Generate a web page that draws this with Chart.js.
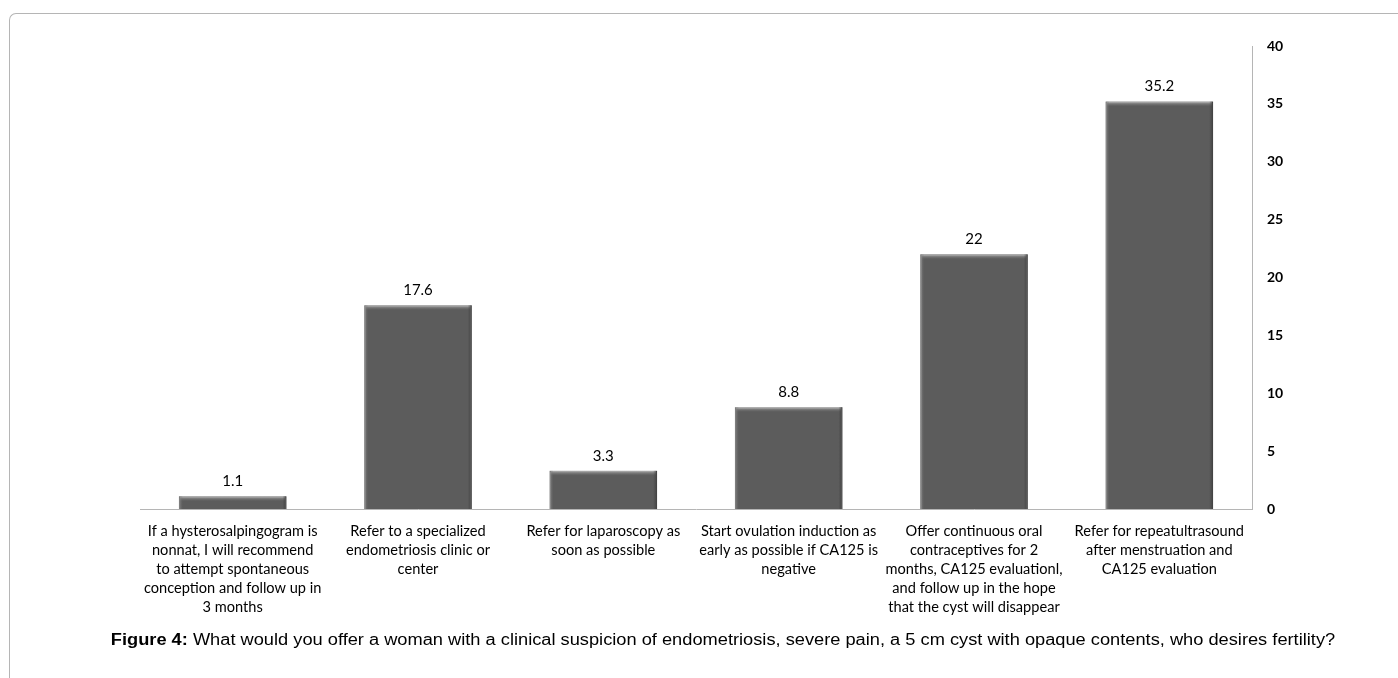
<!DOCTYPE html>
<html>
<head>
<meta charset="utf-8">
<script src="https://cdn.jsdelivr.net/npm/chart.js@4.4.1/dist/chart.umd.min.js"></script>
<style>
  html, body { margin: 0; padding: 0; background: #fff; width: 1398px; height: 678px; overflow: hidden; }
  #frame { position: absolute; left: 9px; top: 13px; width: 1400px; height: 700px;
           border-left: 1px solid #b5b5b5; border-top: 1px solid #b5b5b5; border-top-left-radius: 7px; }
  #wrap { position: absolute; left: 0; top: 0; width: 1398px; height: 678px; }
  #caption { position: absolute; left: 0; top: 631px; width: 1446px; text-align: center;
             font-family: "Liberation Sans", Arial, sans-serif; font-size: 16px; color: #000;
             transform: scaleX(1.14); transform-origin: 723px 0; white-space: nowrap; }
</style>
</head>
<body>
<div id="frame"></div>
<div id="wrap"><canvas id="c" width="1398" height="678"></canvas></div>
<div id="caption"><b>Figure 4:</b> What would you offer a woman with a clinical suspicion of endometriosis, severe pain, a 5 cm cyst with opaque contents, who desires fertility?</div>
<script>
const categories = [
  ["If a hysterosalpingogram is", "nonnat, I will recommend", "to attempt spontaneous", "conception and follow up in", "3 months"],
  ["Refer to a specialized", "endometriosis clinic or", "center"],
  ["Refer for laparoscopy as", "soon as possible"],
  ["Start ovulation induction as", "early as possible if CA125 is", "negative"],
  ["Offer continuous oral", "contraceptives for 2", "months, CA125 evaluationl,", "and follow up in the hope", "that the cyst will disappear"],
  ["Refer for repeatultrasound", "after menstruation and", "CA125 evaluation"]
];
const values = [1.1, 17.6, 3.3, 8.8, 22, 35.2];
const valueLabels = ["1.1", "17.6", "3.3", "8.8", "22", "35.2"];
const yTicks = [0, 5, 10, 15, 20, 25, 30, 35, 40];

const labelFont = "Lato, 'Open Sans', sans-serif";

const barLabelPlugin = {
  id: 'barLabels',
  afterDatasetsDraw(chart) {
    const ctx = chart.ctx;
    const meta = chart.getDatasetMeta(0);
    ctx.save();
    meta.data.forEach((bar, i) => {
      const w = bar.width, left = bar.x - w / 2, top = bar.y;
      let g = ctx.createLinearGradient(0, top, 0, top + 5);
      g.addColorStop(0, 'rgba(190,190,190,0.9)');
      g.addColorStop(1, 'rgba(110,110,110,0)');
      ctx.fillStyle = g;
      ctx.fillRect(left + 1, top, w - 2, Math.min(5, bar.base - top));
      let gl = ctx.createLinearGradient(left, 0, left + 4, 0);
      gl.addColorStop(0, 'rgba(150,150,150,0.8)');
      gl.addColorStop(1, 'rgba(110,110,110,0)');
      ctx.fillStyle = gl;
      ctx.fillRect(left, top, 4, bar.base - top);
      let gr = ctx.createLinearGradient(left + w, 0, left + w - 4, 0);
      gr.addColorStop(0, 'rgba(60,60,60,0.8)');
      gr.addColorStop(1, 'rgba(60,60,60,0)');
      ctx.fillStyle = gr;
      ctx.fillRect(left + w - 4, top, 4, bar.base - top);

      ctx.fillStyle = '#000';
      ctx.font = "15px " + labelFont;
      ctx.textAlign = 'center';
      ctx.textBaseline = 'middle';
      ctx.fillText(valueLabels[i], bar.x, top - 15);
    });
    ctx.restore();
  }
};

new Chart(document.getElementById('c'), {
  type: 'bar',
  data: {
    labels: categories,
    datasets: [{
      data: values,
      backgroundColor: '#5c5c5c',
      borderColor: '#484848',
      borderWidth: 1,
      categoryPercentage: 1.0,
      barPercentage: 0.58
    }]
  },
  options: {
    responsive: false,
    animation: false,
    layout: { padding: { left: 140, right: 96, top: 46, bottom: 49 } },
    plugins: { legend: { display: false }, tooltip: { enabled: false } },
    scales: {
      x: {
        grid: { display: false, drawTicks: false },
        border: { display: true, color: '#b5b5b5', width: 1 },
        ticks: {
          color: '#000', maxRotation: 0, autoSkip: false, padding: 13,
          font: { family: labelFont, size: 14.6, lineHeight: '19px' }
        },
        afterFit(scale) { scale.height = 120; }
      },
      y: {
        position: 'right',
        min: 0, max: 40,
        afterBuildTicks(scale) { scale.ticks = yTicks.map(v => ({ value: v })); },
        grid: { display: false, drawTicks: false },
        border: { display: true, color: '#b5b5b5', width: 1 },
        ticks: {
          color: '#000', padding: 15,
          font: { family: labelFont, size: 14, weight: 'bold' }
        },
        afterFit(scale) { scale.width = 50; }
      }
    }
  },
  plugins: [barLabelPlugin]
});
</script>
</body>
</html>
